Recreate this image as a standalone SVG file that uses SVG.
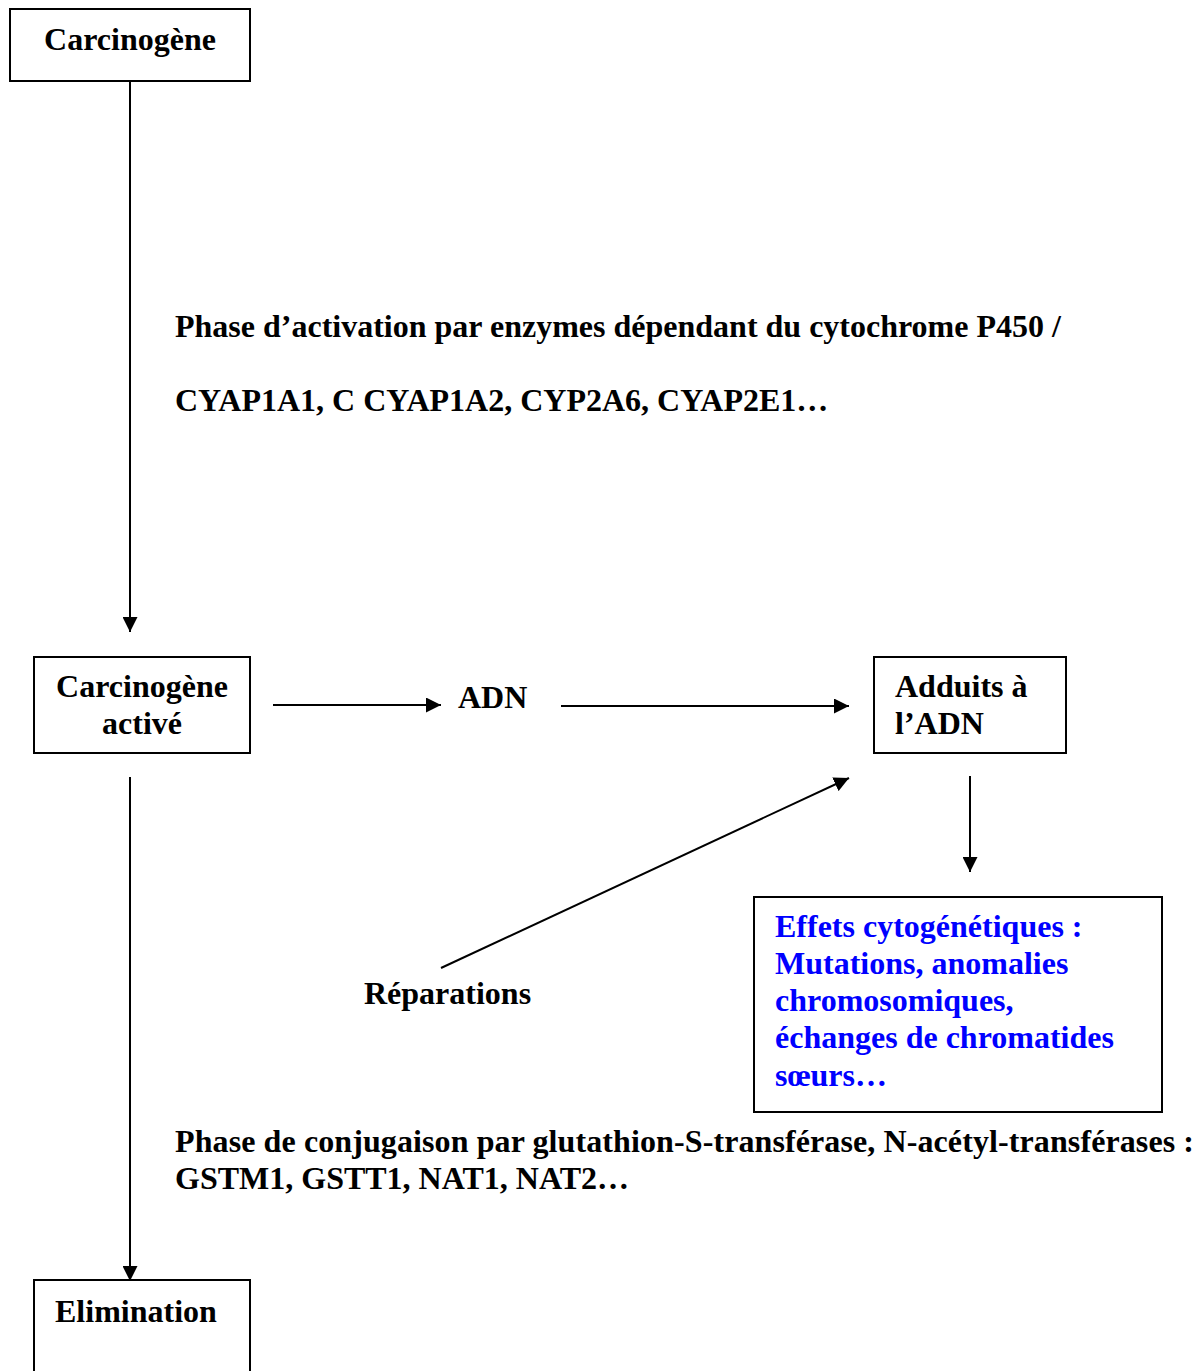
<svg xmlns="http://www.w3.org/2000/svg" width="1204" height="1371" viewBox="0 0 1204 1371">
<style>
text{font-family:"Liberation Serif","Times New Roman",serif;font-weight:bold;font-size:32px;fill:#000}
.blue{fill:#0000ff}
.box{fill:#fff;stroke:#000;stroke-width:2}
.con{stroke:#000;stroke-width:2;fill:none}
</style>
<defs>
<marker id="ah" viewBox="0 0 10 10" refX="10" refY="5" markerWidth="15" markerHeight="15" markerUnits="userSpaceOnUse" orient="auto">
<path d="M0,0 L10,5 L0,10 z" fill="#000"/>
</marker>
</defs>
<rect width="1204" height="1371" fill="#fff"/>
<g id="connectors">
<line class="con" x1="130" y1="81" x2="130" y2="632" marker-end="url(#ah)"/>
<line class="con" x1="273" y1="705" x2="441" y2="705" marker-end="url(#ah)"/>
<line class="con" x1="561" y1="706" x2="849" y2="706" marker-end="url(#ah)"/>
<line class="con" x1="441" y1="968" x2="849" y2="778" marker-end="url(#ah)"/>
<line class="con" x1="970" y1="776" x2="970" y2="872" marker-end="url(#ah)"/>
<line class="con" x1="130" y1="777" x2="130" y2="1281" marker-end="url(#ah)"/>
</g>
<g id="carcinogene">
<rect class="box" x="10" y="9" width="240" height="72"/>
<text x="130" y="50" text-anchor="middle">Carcinogène</text>
</g>
<g id="phase-activation">
<text x="175" y="337">Phase d’activation par enzymes dépendant du cytochrome P450 /</text>
<text x="175" y="411">CYAP1A1, C CYAP1A2, CYP2A6, CYAP2E1…</text>
</g>
<g id="carcinogene-active">
<rect class="box" x="34" y="657" width="216" height="96"/>
<text x="142" y="697" text-anchor="middle">Carcinogène</text>
<text x="142" y="734" text-anchor="middle">activé</text>
</g>
<g id="adn">
<text x="458" y="708">ADN</text>
</g>
<g id="adduits">
<rect class="box" x="874" y="657" width="192" height="96"/>
<text x="895" y="697">Adduits à</text>
<text x="895" y="734">l’ADN</text>
</g>
<g id="reparations">
<text x="364" y="1004">Réparations</text>
</g>
<g id="effets">
<rect class="box" x="754" y="897" width="408" height="215"/>
<text class="blue" x="775" y="937">Effets cytogénétiques :</text>
<text class="blue" x="775" y="974">Mutations, anomalies</text>
<text class="blue" x="775" y="1011">chromosomiques,</text>
<text class="blue" x="775" y="1048">échanges de chromatides</text>
<text class="blue" x="775" y="1086">sœurs…</text>
</g>
<g id="phase-conjugaison">
<text x="175" y="1152" textLength="1019" lengthAdjust="spacing">Phase de conjugaison par glutathion-S-transférase, N-acétyl-transférases :</text>
<text x="175" y="1189">GSTM1, GSTT1, NAT1, NAT2…</text>
</g>
<g id="elimination">
<rect class="box" x="34" y="1280" width="216" height="100"/>
<text x="55" y="1322">Elimination</text>
</g>
</svg>
